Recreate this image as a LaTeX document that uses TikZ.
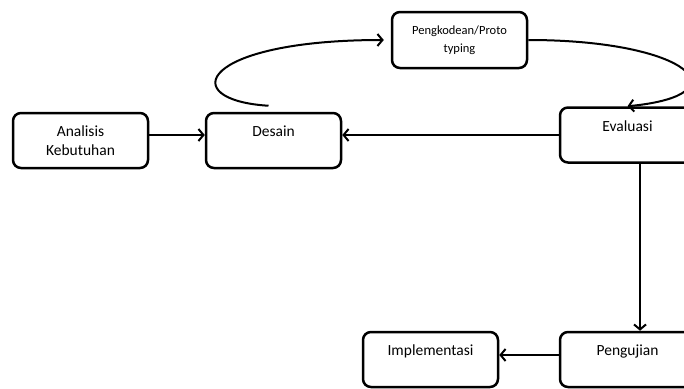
\documentclass[tikz,border=0pt]{standalone}
\usepackage{fontspec}
\setmainfont{Carlito}
\usetikzlibrary{arrows.meta}
\tikzset{
    box/.style={draw, line width=2.5pt, rounded corners=8pt, minimum width=135pt, minimum height=55pt, inner sep=0pt, align=center, font=\fontsize{15.5}{19}\selectfont},
    toptext/.style={text height=11pt, text depth=19pt},
    link/.style={line width=2pt, -{Straight Barb[length=5pt,width=12pt]}}
}
\begin{document}
\begin{tikzpicture}[x=1pt,y=-1pt]
        \useasboundingbox (0,0) rectangle (684,388);
        \clip (0,0) rectangle (684,388);
        \node[box] (analisis) at (80.5,140.5) {Analisis\\Kebutuhan};
        \node[box,toptext] (desain) at (273.5,140.5) {Desain};
        \node[box,font=\fontsize{12.5}{18}\selectfont,minimum height=56pt] (pengkodean) at (459.5,40) {Pengkodean/Proto\\typing};
        \node[box,toptext] (evaluasi) at (627.5,135) {Evaluasi};
        \node[box,toptext] (pengujian) at (627.5,359.5) {Pengujian};
        \node[box,toptext] (implementasi) at (430.5,359.5) {Implementasi};
        \draw[link] ([yshift=5.5pt]analisis.east) -- ([yshift=5.5pt]desain.west);
        \draw[link] ([shift={(-5,-6)}]desain.north) .. controls (175,100) and (200,40) .. ([xshift=-7pt]pengkodean.west);
        \draw[link] (pengkodean.east) .. controls (690,40) and (745,95) .. (evaluasi.north);
        \draw[link] (evaluasi.west) -- (evaluasi.west -| desain.east);
        \draw[link] ([xshift=12.5pt]evaluasi.south) -- ([xshift=12.5pt]pengujian.north);
        \draw[link] ([yshift=4.5pt]pengujian.west) -- ([yshift=4.5pt]implementasi.east);
    \end{tikzpicture}
\end{document}
